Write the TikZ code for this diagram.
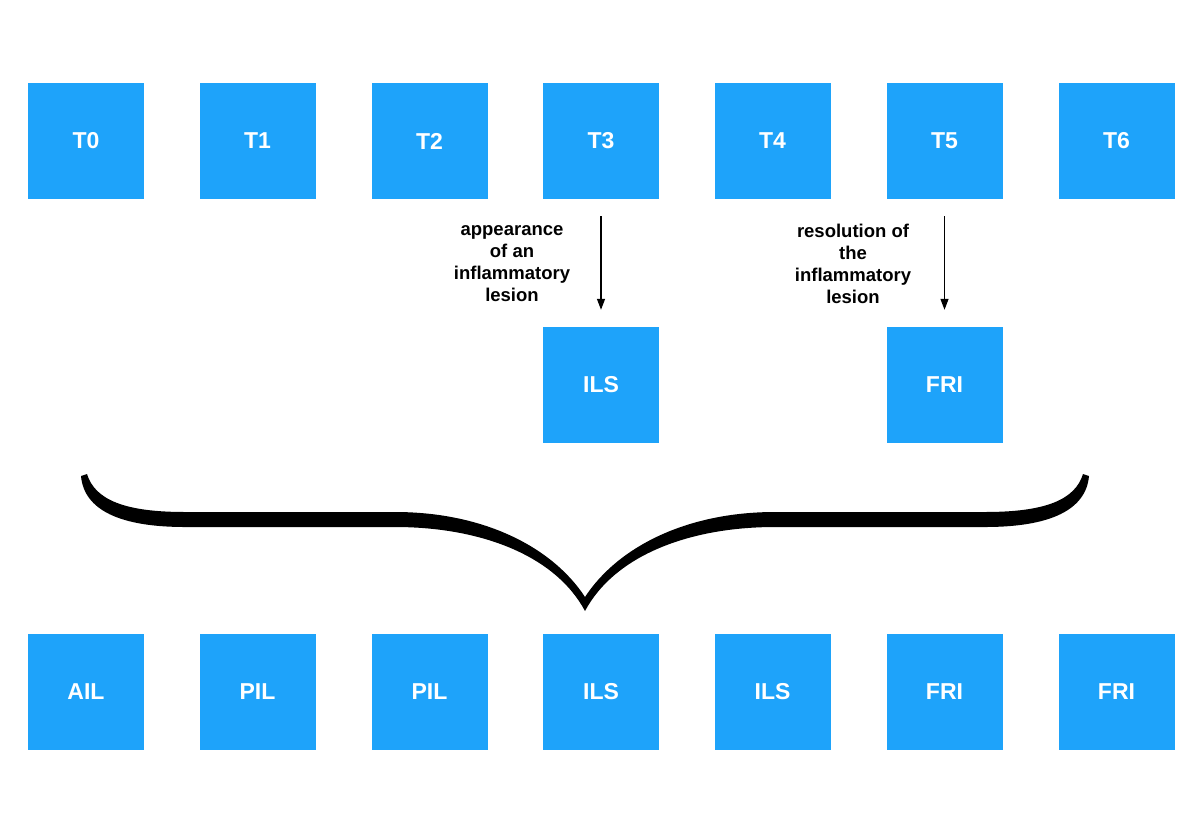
\documentclass[tikz,border=0pt]{standalone}
\usepackage{fontspec}
\setmainfont{Liberation Sans}
\usetikzlibrary{arrows.meta}
\definecolor{boxblue}{RGB}{30,163,250}
\tikzset{
  tbox/.style={fill=boxblue, draw=none, minimum width=116pt, minimum height=116pt, inner sep=0pt, text=white, font=\fontsize{23}{27}\selectfont\bfseries},
  lbl/.style={align=center, font=\fontsize{18.5}{22}\selectfont\bfseries, text=black, inner sep=0pt},
  arr/.style={draw=black, line width=1.3pt, -{Triangle[length=11pt,width=8pt]}, shorten <=17pt, shorten >=17pt}
}
\begin{document}
\begin{tikzpicture}[x=1pt,y=-1pt]
\useasboundingbox[fill=white] (0,0) rectangle (1198,825);
% top row
\node[tbox] (T0) at (86,141) {T0};
\node[tbox] (T1) at (257.5,141) {T1};
\node[tbox] (T2) at (429.5,141) {T2};
\node[tbox] (T3) at (601,141) {T3};
\node[tbox] (T4) at (772.5,141) {T4};
\node[tbox] (T5) at (944.5,141) {T5};
\node[tbox] (T6) at (1116.5,141) {T6};
% middle row
\node[tbox] (ILSm) at (601,385) {ILS};
\node[tbox] (FRIm) at (944.5,385) {FRI};
% bottom row
\node[tbox] (B0) at (86,692) {AIL};
\node[tbox] (B1) at (257.5,692) {PIL};
\node[tbox] (B2) at (429.5,692) {PIL};
\node[tbox] (B3) at (601,692) {ILS};
\node[tbox] (B4) at (772.5,692) {ILS};
\node[tbox] (B5) at (944.5,692) {FRI};
\node[tbox] (B6) at (1116.5,692) {FRI};
% arrows
\draw[arr] (T3) -- (ILSm);
\draw[arr] (T5) -- (FRIm);
% labels
\node[lbl] (la) at (512,264) {appearance\\of an\\inflammatory\\lesion};
\node[lbl] (lb) at (853,264) {resolution of\\the\\inflammatory\\lesion};
% brace
\fill[black] (81,476) -- (87,474) .. controls (95,500) and (125,512) .. (185,512) -- (395,512)
  .. controls (485,512) and (553,548) .. (585,597)
  .. controls (617,548) and (685,512) .. (775,512) -- (985,512)
  .. controls (1045,512) and (1075,500) .. (1083,474) -- (1089,476)
  .. controls (1086,510) and (1050,527) .. (985,527) -- (775,527)
  .. controls (690,527) and (615,555) .. (585,611)
  .. controls (555,555) and (480,527) .. (395,527) -- (185,527)
  .. controls (120,527) and (84,510) .. (81,476) -- cycle;
\end{tikzpicture}
\end{document}
